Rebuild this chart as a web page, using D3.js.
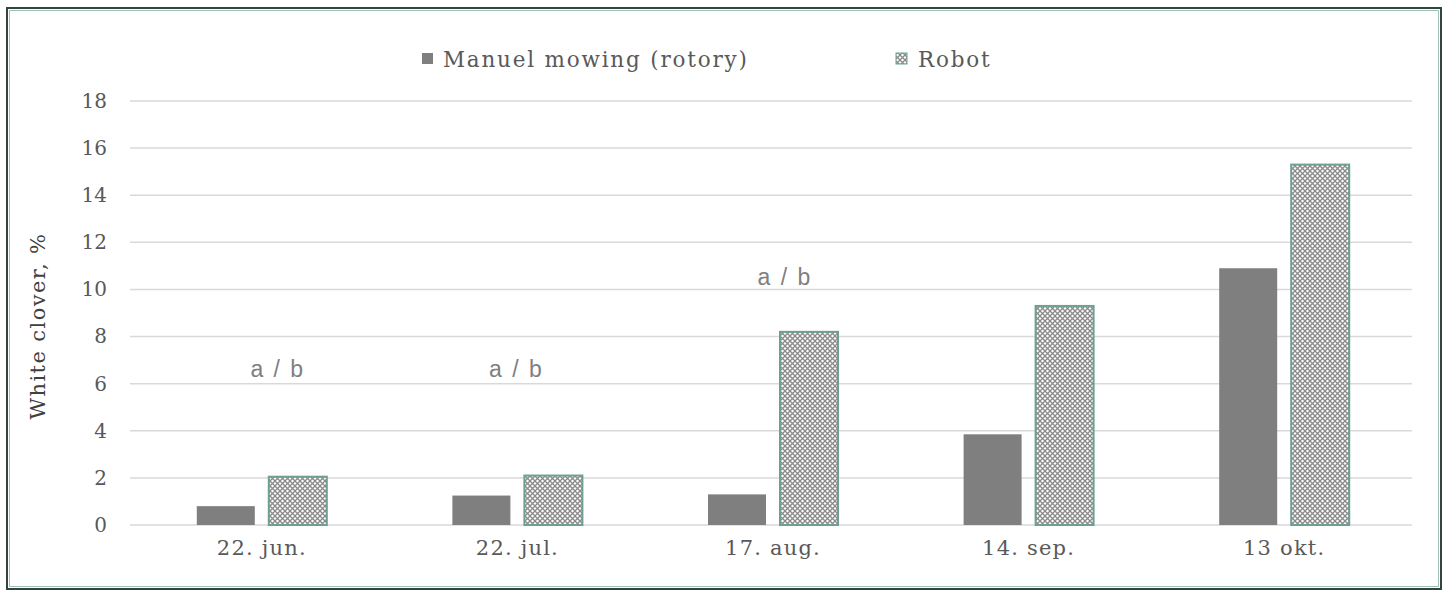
<!DOCTYPE html>
<html>
<head>
<meta charset="utf-8">
<script src="https://cdn.jsdelivr.net/npm/d3@7"></script>
<style>
  body { margin: 0; background: #fff; }
  svg text { font-family: "DejaVu Serif", serif; }
</style>
</head>
<body>
<div id="chart"></div>
<script>
var svgWidth = 1450;
var svgHeight = 591;

// data
var dates = ["22. jun.", "22. jul.", "17. aug.", "14. sep.", "13 okt."];
var manual = [0.8, 1.25, 1.3, 3.85, 10.9];
var robot = [2.05, 2.1, 8.2, 9.3, 15.3];
var yTicks = [0, 2, 4, 6, 8, 10, 12, 14, 16, 18];
var seriesNames = ["Manuel mowing (rotory)", "Robot"];
var noteDates = ["22. jun.", "22. jul.", "17. aug."];
var noteLevels = [6.3, 6.3, 10.2];
var noteText = "a / b";

var margin = { top: 101, right: 38, bottom: 66, left: 130 };
var width = svgWidth - margin.left - margin.right;
var height = svgHeight - margin.top - margin.bottom;

var svg = d3.select("#chart")
    .append("svg")
    .attr("width", svgWidth)
    .attr("height", svgHeight);

// hatched fill used for the robot bars
var defs = svg.append("defs");
var pat = defs.append("pattern")
    .attr("id", "hatch")
    .attr("patternUnits", "userSpaceOnUse")
    .attr("width", 5)
    .attr("height", 5);
pat.append("rect").attr("width", 5).attr("height", 5).attr("fill", "#fff");
pat.append("path")
    .attr("d", "M0,0 L5,5 M5,0 L0,5")
    .attr("stroke", "#8a8a8a")
    .attr("stroke-width", 1.3);

// outer frame
svg.append("rect")
    .attr("x", 7).attr("y", 8)
    .attr("width", 1434).attr("height", 581)
    .attr("fill", "none")
    .attr("stroke", "#34443f")
    .attr("stroke-width", 2);
svg.append("rect")
    .attr("x", 9.5).attr("y", 10.5)
    .attr("width", 1429).attr("height", 576)
    .attr("fill", "none")
    .attr("stroke", "#9fc2b8")
    .attr("stroke-width", 1);

var chartGroup = svg.append("g")
    .attr("transform", `translate(${margin.left}, ${margin.top})`);

var x0 = d3.scaleBand()
    .domain(dates)
    .range([4, width]);

var yScale = d3.scaleLinear()
    .domain([0, 18])
    .range([height, 0]);

// gridlines
chartGroup.append("g")
    .selectAll("line")
    .data(yTicks)
    .enter()
    .append("line")
    .attr("x1", 0)
    .attr("x2", width)
    .attr("y1", d => yScale(d))
    .attr("y2", d => yScale(d))
    .attr("stroke", "#d9d9d9")
    .attr("stroke-width", 1.5);

// y axis labels
var leftAxis = d3.axisLeft(yScale).tickValues(yTicks).tickSize(0).tickPadding(23);
var yAxis = chartGroup.append("g").call(leftAxis);
yAxis.select(".domain").remove();
yAxis.selectAll("text")
    .attr("font-family", "DejaVu Serif")
    .attr("font-size", 20)
    .attr("fill", "#595959");

// x axis labels
var bottomAxis = d3.axisBottom(x0).tickSize(0).tickPadding(15);
var xAxis = chartGroup.append("g")
    .attr("transform", `translate(0, ${height})`)
    .call(bottomAxis);
xAxis.select(".domain").remove();
xAxis.selectAll("text")
    .attr("font-family", "DejaVu Serif")
    .attr("font-size", 21)
    .attr("letter-spacing", 1.2)
    .attr("fill", "#595959");

var barW = 58;
var gap = 14;

// manual bars
chartGroup.append("g")
    .selectAll("rect")
    .data(manual)
    .enter()
    .append("rect")
    .attr("x", (d, i) => x0(dates[i]) + x0.bandwidth() / 2 - gap / 2 - barW)
    .attr("y", d => yScale(d))
    .attr("width", barW)
    .attr("height", d => height - yScale(d))
    .attr("fill", "#7f7f7f");

// robot bars
chartGroup.append("g")
    .selectAll("rect")
    .data(robot)
    .enter()
    .append("rect")
    .attr("x", (d, i) => x0(dates[i]) + x0.bandwidth() / 2 + gap / 2)
    .attr("y", d => yScale(d))
    .attr("width", barW)
    .attr("height", d => height - yScale(d))
    .attr("fill", "url(#hatch)")
    .attr("stroke", "#6d9f94")
    .attr("stroke-width", 2);

// significance notes
var noteShift = [16, -1, 12];
chartGroup.append("g")
    .selectAll("text")
    .data(noteLevels)
    .enter()
    .append("text")
    .attr("x", (d, i) => x0(noteDates[i]) + x0.bandwidth() / 2 + noteShift[i])
    .attr("y", d => yScale(d))
    .attr("text-anchor", "middle")
    .style("font-family", "Liberation Sans")
    .attr("font-size", 23)
    .attr("letter-spacing", 2)
    .attr("fill", "#7f7f7f")
    .text(noteText);

// y axis title
svg.append("text")
    .attr("transform", "rotate(-90)")
    .attr("x", -326)
    .attr("y", 45)
    .attr("text-anchor", "middle")
    .attr("font-size", 21)
    .attr("letter-spacing", 1.4)
    .attr("fill", "#404040")
    .text("White clover, %");

// legend
var legend = svg.append("g");
var legendX = [422, 896];
seriesNames.forEach(function(name, i) {
    legend.append("rect")
        .attr("x", legendX[i])
        .attr("y", 53)
        .attr("width", 11)
        .attr("height", 11)
        .attr("fill", i === 0 ? "#7f7f7f" : "url(#hatch)")
        .attr("stroke", i === 0 ? "none" : "#6d9f94")
        .attr("stroke-width", 1);
    legend.append("text")
        .attr("x", legendX[i] + (i === 0 ? 21 : 22))
        .attr("y", 67)
        .attr("font-size", 21.5)
        .attr("letter-spacing", 1.8)
        .attr("fill", "#595959")
        .text(name);
});
</script>
</body>
</html>
